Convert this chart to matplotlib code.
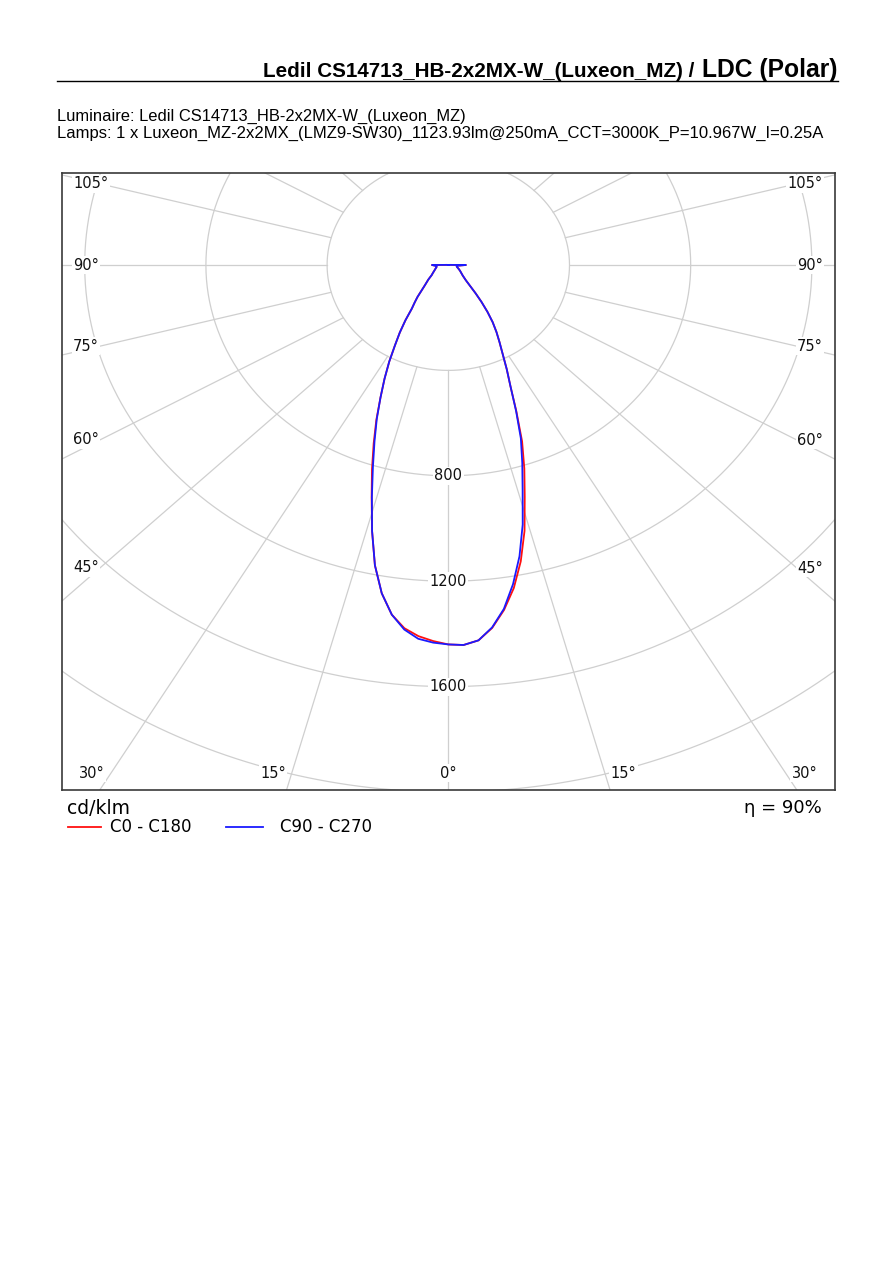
import matplotlib
matplotlib.use('Agg')
from matplotlib import pyplot as plt
from matplotlib.lines import Line2D
import numpy as np

# gamma angle (deg) and luminous intensity (cd/klm)
gamma = [0, 2, 4, 6, 8, 10, 12, 14, 16, 18, 20, 22, 24, 26, 28, 30, 32, 34, 36, 38, 40,
         45, 50, 55, 60, 65, 70, 75, 80, 85, 90, 95, 100]
c0 = [1440, 1443, 1428, 1385, 1322, 1245, 1150, 1040, 915, 812, 712, 600, 505, 440, 382, 338,
      300, 262, 220, 178, 140, 82, 62, 52, 45, 39, 34, 30, 28, 30, 58, 5, 0]
c180 = [1440, 1428, 1412, 1386, 1340, 1265, 1165, 1040, 918, 815, 720, 634, 550, 480, 415, 352,
        302, 253, 205, 180, 158, 110, 86, 67, 58, 51, 46, 42, 39, 40, 54, 5, 0]
c90 = [1440, 1443, 1428, 1383, 1318, 1230, 1130, 1015, 890, 790, 700, 597, 505, 440, 382, 338,
       300, 262, 220, 178, 140, 82, 62, 52, 45, 39, 34, 30, 28, 30, 58, 5, 0]
c270 = [1440, 1434, 1422, 1391, 1340, 1265, 1165, 1040, 915, 805, 712, 630, 550, 480, 415, 352,
        302, 253, 205, 180, 158, 110, 86, 67, 58, 51, 46, 42, 39, 40, 54, 5, 0]

rings = [400, 800, 1200, 1600, 2000, 2400, 2800, 3200]
ring_labels = [800, 1200, 1600]
side_angles = [45, 60, 75, 90, 105]
bottom_angles = [0, 15, 30]

title = "Ledil CS14713_HB-2x2MX-W_(Luxeon_MZ) / "
title2 = "LDC (Polar)"
line1 = "Luminaire: Ledil CS14713_HB-2x2MX-W_(Luxeon_MZ)"
line2 = "Lamps: 1 x Luxeon_MZ-2x2MX_(LMZ9-SW30)_1123.93lm@250mA_CCT=3000K_P=10.967W_I=0.25A"

W, H = 892, 1261
L, R, T, B = 62, 835, 173, 790          # plot box in pixels
OX, OY = 448.3, 265                     # origin in pixels
SX, SY = 0.303, 0.2635                  # px per cd/klm (picture is stretched sideways)

fig = plt.figure(figsize=(W / 100, H / 100), dpi=100)
ax = fig.add_axes([L / W, 1 - B / H, (R - L) / W, (B - T) / H])
ax.set_xlim((L - OX) / SX, (R - OX) / SX)
ax.set_ylim(-(B - OY) / SY, (OY - T) / SY)
ax.set_xticks([])
ax.set_yticks([])
for s in ax.spines.values():
    s.set_color('#3a3a3a')
    s.set_linewidth(1.2)

gridc = '#cfcfcf'
t = np.linspace(0, 2 * np.pi, 721)
for rr in rings:
    ax.plot(rr * np.sin(t), rr * np.cos(t), color=gridc, lw=0.9, zorder=1)
for a in range(0, 360, 15):
    ar = np.radians(a)
    ax.plot([400 * np.sin(ar), 4000 * np.sin(ar)], [-400 * np.cos(ar), -4000 * np.cos(ar)],
            color=gridc, lw=0.9, zorder=1)

lab = dict(fontsize=10.5, family='DejaVu Sans', color='#111111', zorder=2,
           bbox=dict(facecolor='white', edgecolor='none', pad=1.0))
for v in ring_labels:
    ax.text(0, -v, str(v), ha='center', va='center', **lab)

# angle labels on the sides
xl = (100 - OX) / SX
xr = (797 - OX) / SX
for a in side_angles:
    ar = np.radians(a)
    ax.text((73 - OX) / SX, xl / np.tan(ar), f"{a}°", ha='left', va='center', **lab)
    ax.text((823 - OX) / SX, -xr / np.tan(ar), f"{a}°", ha='right', va='center', **lab)
yb = -(773 - OY) / SY
for a in bottom_angles:
    xray = -yb * np.tan(np.radians(a))
    if a == 0:
        ax.text(0, yb, "0°", ha='center', va='center', **lab)
        continue
    off = 6 / SX
    ax.text(-xray - off, yb, f"{a}°", ha='right', va='center', **lab)
    ax.text(xray + off, yb, f"{a}°", ha='left', va='center', **lab)

g = np.radians(gamma)


def ldc(right, left):
    gg = np.concatenate([-g[::-1], g[1:]])
    rr = np.concatenate([np.array(left)[::-1], np.array(right)[1:]])
    return rr * np.sin(gg), -rr * np.cos(gg)


x, y = ldc(c0, c180)
ax.plot(x, y, color='#ff1010', lw=1.3, zorder=3, solid_joinstyle='round')
x, y = ldc(c90, c270)
ax.plot(x, y, color='#1a1aff', lw=1.3, zorder=4, solid_joinstyle='round')


# texts around the plot, sized to fit the widths seen in the picture
def fit(px, py, s, width, ha='left', **kw):
    txt = fig.text(px / W, 1 - py / H, s, ha=ha, fontsize=10, **kw)
    fig.canvas.draw()
    w = txt.get_window_extent().width
    txt.set_fontsize(10 * width / w)
    return txt


fit(838, 77, title2, 135, ha='right', va='baseline', family='Liberation Sans',
    weight='bold', color='black')
fit(700, 77, title, 435, ha='right', va='baseline', family='Liberation Sans',
    weight='bold', color='black')
fig.add_artist(Line2D([57 / W, 838 / W], [1 - 80.5 / H, 1 - 80.5 / H], color='black', lw=1.0))
fit(57, 116, line1, 407, va='center', family='Liberation Sans', color='black')
fit(57, 133, line2, 766, va='center', family='Liberation Sans', color='black')

fig.text(67 / W, 1 - 808 / H, "cd/klm", ha='left', va='center', fontsize=13.5,
         family='DejaVu Sans', color='black')
fig.text(822 / W, 1 - 808 / H, "η = 90%", ha='right', va='center', fontsize=13,
         family='DejaVu Sans', color='black')
fig.add_artist(Line2D([68 / W, 101 / W], [1 - 827 / H] * 2, color='#ff1010', lw=1.3))
fig.text(110 / W, 1 - 827 / H, "C0 - C180", ha='left', va='center', fontsize=12,
         family='DejaVu Sans', color='black')
fig.add_artist(Line2D([226 / W, 263 / W], [1 - 827 / H] * 2, color='#1a1aff', lw=1.3))
fig.text(280 / W, 1 - 827 / H, "C90 - C270", ha='left', va='center', fontsize=12,
         family='DejaVu Sans', color='black')

fig.savefig('out.png', dpi=100, facecolor='white')
